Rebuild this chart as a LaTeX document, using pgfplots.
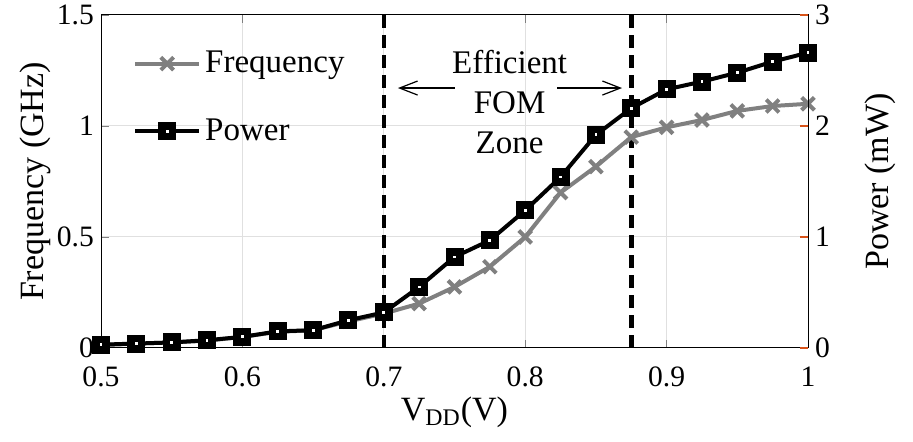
\documentclass[border=0pt]{standalone}
\usepackage{fontspec}
\setmainfont{Liberation Serif}
\usepackage{pgfplots}
\pgfplotsset{compat=1.18}
\usetikzlibrary{arrows.meta}
\definecolor{freqgray}{RGB}{128,128,128}
\definecolor{tickorange}{RGB}{217,83,25}
\begin{document}
\begin{tikzpicture}
\useasboundingbox (-50.5pt,-47pt) rectangle (406pt,174pt);
\pgfplotsset{
  every axis/.append style={width=353.5pt, height=166.5pt, scale only axis,
    xmin=0.5, xmax=1,
    /pgf/number format/assume math mode=true,
    tick label style={font=\fontsize{14.8}{16}\selectfont},
    label style={font=\fontsize{17}{20}\selectfont},
    axis line style={line width=0.5pt}, tick align=inside, major tick length=4pt},
  freq/.style={freqgray, line width=2pt, mark=x, mark size=4.5pt, mark options={line width=2pt}},
  pow/.style={black, line width=2pt, mark=square*, mark size=2.6pt, mark options={draw=black, fill=white, line width=3.8pt}},
}
\begin{axis}[
  ymin=0, ymax=1.5, ytick={0,0.5,1,1.5}, xtick={0.5,0.6,...,1.0},
  ytick pos=left, xtick pos=both,
  xticklabel style={yshift=-6pt},
  grid=major, major grid style={black!12, line width=0.5pt},
  xlabel={V\textsubscript{DD}(V)}, ylabel={Frequency (GHz)},
  xlabel style={at={(axis description cs:0.5,-0.192)}, anchor=center},
  ylabel style={at={(axis description cs:-0.093,0.5)}, anchor=center},
  legend style={at={(axis description cs:0.045,0.904)}, anchor=north west, draw=none, fill=none,
    font=\fontsize{16.5}{19}\selectfont, row sep=17.5pt, inner sep=0pt},
  legend cell align=left,
  legend image code/.code={\draw[mark repeat=2, mark phase=2] plot coordinates {(0pt,0pt) (16pt,0pt) (32pt,0pt)};},
]
\addplot[freq] coordinates {
(0.500,0.013) (0.525,0.020) (0.550,0.025) (0.575,0.033) (0.600,0.050) (0.625,0.073) (0.650,0.080)
(0.675,0.120) (0.700,0.155) (0.725,0.200) (0.750,0.275) (0.775,0.366) (0.800,0.500) (0.825,0.700)
(0.850,0.817) (0.875,0.950) (0.900,0.994) (0.925,1.027) (0.950,1.068) (0.975,1.090) (1.000,1.100)};
\addlegendentry{Frequency}
\addlegendimage{pow}
\addlegendentry{Power}
\draw[black, line width=2.3pt, dash pattern=on 6.5pt off 3.5pt] (axis cs:0.7,0) -- (axis cs:0.7,1.5);
\draw[black, line width=2.3pt, dash pattern=on 6.5pt off 3.5pt] (axis cs:0.875,0) -- (axis cs:0.875,1.5);
\draw[-{Straight Barb[length=9pt,width=7pt]}, line width=0.6pt] (axis cs:0.750,1.171) -- (axis cs:0.710,1.171);
\draw[-{Straight Barb[length=9pt,width=7pt]}, line width=0.6pt] (axis cs:0.8225,1.171) -- (axis cs:0.8685,1.171);
\node[align=center, font=\fontsize{16.5}{20}\selectfont] at (axis cs:0.789,1.108) {Efficient\\FOM\\Zone};
\end{axis}
\begin{axis}[
  axis y line*=right, axis x line=none,
  ymin=0, ymax=3, ytick={0,1,2,3},
  ytick style={tickorange, line width=0.6pt},
  ylabel={Power (mW)},
  ylabel style={at={(axis description cs:1.102,0.5)}, anchor=center, rotate=0},
]
\addplot[pow] coordinates {
(0.500,0.03) (0.525,0.04) (0.550,0.05) (0.575,0.07) (0.600,0.10) (0.625,0.15) (0.650,0.16)
(0.675,0.25) (0.700,0.32) (0.725,0.55) (0.750,0.82) (0.775,0.97) (0.800,1.24) (0.825,1.54)
(0.850,1.92) (0.875,2.16) (0.900,2.33) (0.925,2.40) (0.950,2.48) (0.975,2.58) (1.000,2.66)};
\end{axis}
\end{tikzpicture}
\end{document}
